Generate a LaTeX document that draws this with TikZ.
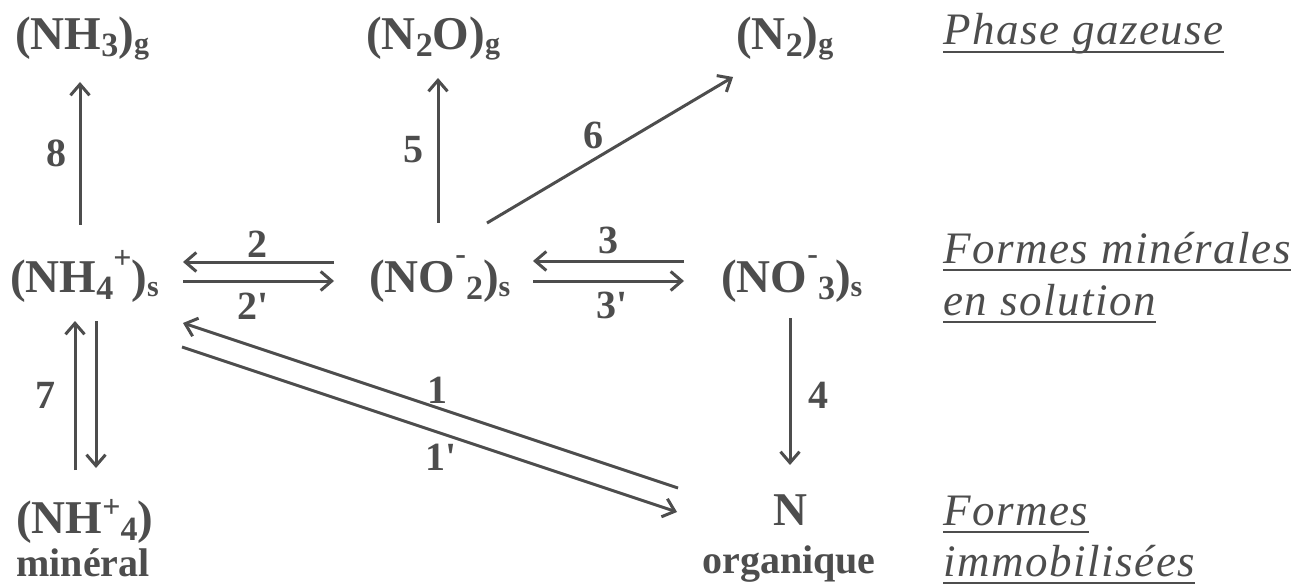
\documentclass[tikz,border=0pt]{standalone}
\usepackage{fontspec}
\setmainfont{Liberation Serif}
\usetikzlibrary{arrows.meta}
\definecolor{ink}{HTML}{4d4d4d}
\newcommand\dsub[1]{\raisebox{-7pt}{\fontsize{34}{34}\selectfont #1}}
\newcommand\psub[1]{\raisebox{-4pt}{\fontsize{30}{30}\selectfont #1}}
\newcommand\csup[2][24pt]{\raisebox{#1}{\fontsize{32}{32}\selectfont #2}}
\newcommand\prm{\textquotesingle}
\begin{document}
\begin{tikzpicture}[x=1pt,y=-1pt,
  formula/.style={inner sep=0pt, anchor=base west, text=ink, font=\fontsize{47}{47}\selectfont\bfseries},
  word/.style={inner sep=0pt, anchor=base, text=ink, font=\fontsize{40}{40}\selectfont\bfseries},
  lab/.style={inner sep=0pt, anchor=base west, text=ink, font=\fontsize{45}{45}\selectfont\itshape\addfontfeatures{LetterSpace=3.4}},
  num/.style={inner sep=0pt, text=ink, font=\fontsize{40}{40}\selectfont\bfseries},
  arr/.style={draw=ink, line width=3pt, -{Straight Barb[length=11pt,width=19pt]}},
  uline/.style={draw=ink, line width=1.8pt}]
\useasboundingbox[fill=white] (0,0) rectangle (1309,588);

% formulas
\node[formula] (nh3g) at (15,50) {(NH\dsub{3})\psub{g}};
\node[formula] (n2og) at (366,50) {(N\dsub{2}O)\psub{g}};
\node[formula] (n2g) at (736,50) {(N\dsub{2})\psub{g}};
\node[formula] (nh4s) at (10,292) {(NH\dsub{4}\csup{+})\psub{s}};
\node[formula] (no2s) at (369,292) {(NO\csup[28pt]{-}\dsub{2})\psub{s}};
\node[formula] (no3s) at (721,292) {(NO\csup[28pt]{-}\dsub{3})\psub{s}};
\node[formula] (nh4m) at (16,533) {(NH\csup[16pt]{+}\dsub{4})};
\node[word] (mineral) at (83,576) {minéral};
\node[formula, anchor=base] (norg) at (790,525) {N};
\node[word] (organique) at (789,573) {organique};

% right labels
\node[lab] (phase) at (943,45) {Phase gazeuse};
\node[lab] (fm1) at (943,263) {Formes minérales};
\node[lab] (fm2) at (943,315) {en solution};
\node[lab] (fi1) at (943,525) {Formes};
\node[lab] (fi2) at (943,576) {immobilisées};
\foreach \n in {phase,fm1,fm2,fi1,fi2}{
  \draw[uline] ([yshift=-7pt]\n.base west) -- ([yshift=-7pt]\n.base east);
}

% arrow end points
\coordinate (a8s) at (80,225);  \coordinate (a8e) at (80,82);
\coordinate (a5s) at (438,223); \coordinate (a5e) at (438,78);
\coordinate (a6s) at (487,223); \coordinate (a6e) at (733,77);
\coordinate (a2r) at (334,262); \coordinate (a2l) at (183,262);
\coordinate (b2l) at (183,281); \coordinate (b2r) at (334,281);
\coordinate (a3r) at (684,261); \coordinate (a3l) at (533,261);
\coordinate (b3l) at (533,281); \coordinate (b3r) at (684,281);
\coordinate (a4s) at (790,318); \coordinate (a4e) at (790,465);
\coordinate (a7s) at (75,470);  \coordinate (a7e) at (75,321);
\coordinate (b7s) at (96,321);  \coordinate (b7e) at (96,468);
\coordinate (a1s) at (678,488); \coordinate (a1e) at (183,323);
\coordinate (b1s) at (182,347); \coordinate (b1e) at (677,512);

\draw[arr] (a8s) -- (a8e);
\draw[arr] (a5s) -- (a5e);
\draw[arr] (a6s) -- (a6e);
\draw[arr] (a2r) -- (a2l);
\draw[arr] (b2l) -- (b2r);
\draw[arr] (a3r) -- (a3l);
\draw[arr] (b3l) -- (b3r);
\draw[arr] (a4s) -- (a4e);
\draw[arr] (a7s) -- (a7e);
\draw[arr] (b7s) -- (b7e);
\draw[arr] (a1s) -- (a1e);
\draw[arr] (b1s) -- (b1e);

% numbers
\node[num] (l8) at (56,153) {8};
\node[num] (l5) at (413,150) {5};
\node[num] (l6) at (593,135) {6};
\node[num] (l2) at (257,244) {2};
\node[num] (l2p) at (253,306) {2\prm};
\node[num] (l3) at (608,240) {3};
\node[num] (l3p) at (612,305) {3\prm};
\node[num] (l7) at (45,395) {7};
\node[num] (l4) at (818,395) {4};
\node[num] (l1) at (437,390) {1};
\node[num] (l1p) at (441,457) {1\prm};
\end{tikzpicture}
\end{document}
